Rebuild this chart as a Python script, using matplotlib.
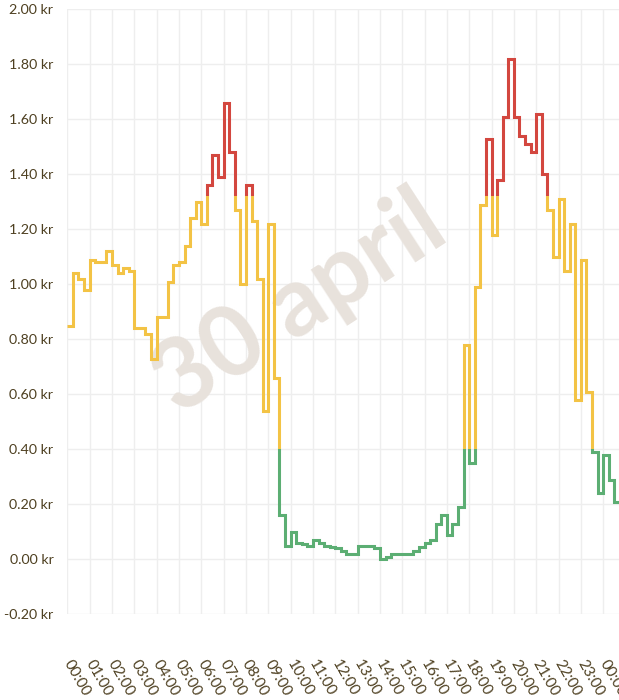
import numpy as np
import matplotlib
matplotlib.use("Agg")
import matplotlib.pyplot as plt
import matplotlib.transforms as mtransforms
from matplotlib.patches import Rectangle

# Quarter-hourly prices (kr), starting 30 April 00:00
prices = [
    0.85, 1.04, 1.02, 0.98,   # 00
    1.09, 1.08, 1.08, 1.12,   # 01
    1.07, 1.04, 1.06, 1.05,   # 02
    0.84, 0.84, 0.82, 0.73,   # 03
    0.88, 0.88, 1.01, 1.07,   # 04
    1.08, 1.14, 1.24, 1.30,   # 05
    1.22, 1.36, 1.47, 1.39,   # 06
    1.66, 1.48, 1.27, 1.00,   # 07
    1.36, 1.23, 1.02, 0.54,   # 08
    1.22, 0.66, 0.16, 0.05,   # 09
    0.10, 0.06, 0.055, 0.05,  # 10
    0.07, 0.06, 0.05, 0.045,  # 11
    0.04, 0.03, 0.02, 0.02,   # 12
    0.05, 0.05, 0.05, 0.04,   # 13
    0.00, 0.01, 0.02, 0.02,   # 14
    0.02, 0.02, 0.03, 0.045,  # 15
    0.06, 0.07, 0.13, 0.16,   # 16
    0.09, 0.13, 0.19, 0.78,   # 17
    0.35, 0.99, 1.29, 1.53,   # 18
    1.18, 1.38, 1.61, 1.82,   # 19
    1.61, 1.54, 1.51, 1.48,   # 20
    1.62, 1.40, 1.27, 1.10,   # 21
    1.31, 1.05, 1.22, 0.58,   # 22
    1.09, 0.61, 0.39, 0.24,   # 23
    0.38, 0.29, 0.21,         # 00 (next day)
]

hour_ticks = list(range(25))
hour_labels = ["00:00", "01:00", "02:00", "03:00", "04:00", "05:00", "06:00",
               "07:00", "08:00", "09:00", "10:00", "11:00", "12:00", "13:00",
               "14:00", "15:00", "16:00", "17:00", "18:00", "19:00", "20:00",
               "21:00", "22:00", "23:00", "00:00"]
y_ticks = [-0.2, 0.0, 0.2, 0.4, 0.6, 0.8, 1.0, 1.2, 1.4, 1.6, 1.8, 2.0]
y_labels = ["-0.20 kr", "0.00 kr", "0.20 kr", "0.40 kr", "0.60 kr", "0.80 kr",
            "1.00 kr", "1.20 kr", "1.40 kr", "1.60 kr", "1.80 kr", "2.00 kr"]

low_limit = 0.40
high_limit = 1.32
watermark = "30 april"

GREEN = "#5cae73"
YELLOW = "#f3c345"
RED = "#d3473f"
TEXT = "#4e4021"
GRID = "#eeeeee"

plt.rcParams["font.family"] = ["Lato", "DejaVu Sans"]

fig = plt.figure(figsize=(6.19, 7.0), dpi=100)
ax = fig.add_axes([67.3 / 619, 85.7 / 700, (619 - 67.3) / 619, 605 / 700])

ax.set_xlim(0, (619 - 67.3) / 22.33)
ax.set_ylim(-0.2, 2.0)

ax.set_xticks(hour_ticks)
ax.set_xticklabels(hour_labels, rotation=-60, ha="left", va="top",
                   rotation_mode="anchor")
ax.set_yticks(y_ticks)
ax.set_yticklabels(y_labels)
ax.tick_params(axis="both", length=0, labelcolor=TEXT)
ax.tick_params(axis="x", pad=31, labelsize=11)
ax.tick_params(axis="y", pad=10, labelsize=10.3)
shift = mtransforms.ScaledTranslation(4 / 72, 0, fig.dpi_scale_trans)
for lab in ax.get_xticklabels():
    lab.set_transform(lab.get_transform() + shift)
ax.grid(True, color=GRID, lw=1, zorder=0)
ax.set_axisbelow(True)
for s in ax.spines.values():
    s.set_visible(False)

ax.text(10.4, 0.93, watermark, rotation=33, rotation_mode="anchor",
        ha="center", va="center", fontsize=70, fontweight="bold",
        color="#e8e2dc", zorder=1)

edges = np.arange(len(prices) + 1) * 0.25
bands = [(-5, low_limit, GREEN), (low_limit, high_limit, YELLOW),
         (high_limit, 5, RED)]
for lo, hi, col in bands:
    st = ax.stairs(prices, edges, baseline=None, color=col, lw=2.2, zorder=3)
    st.set_joinstyle("miter")
    clip = Rectangle((-5, lo), 40, hi - lo, transform=ax.transData)
    st.set_clip_path(clip)

fig.savefig("out.png", dpi=100)
